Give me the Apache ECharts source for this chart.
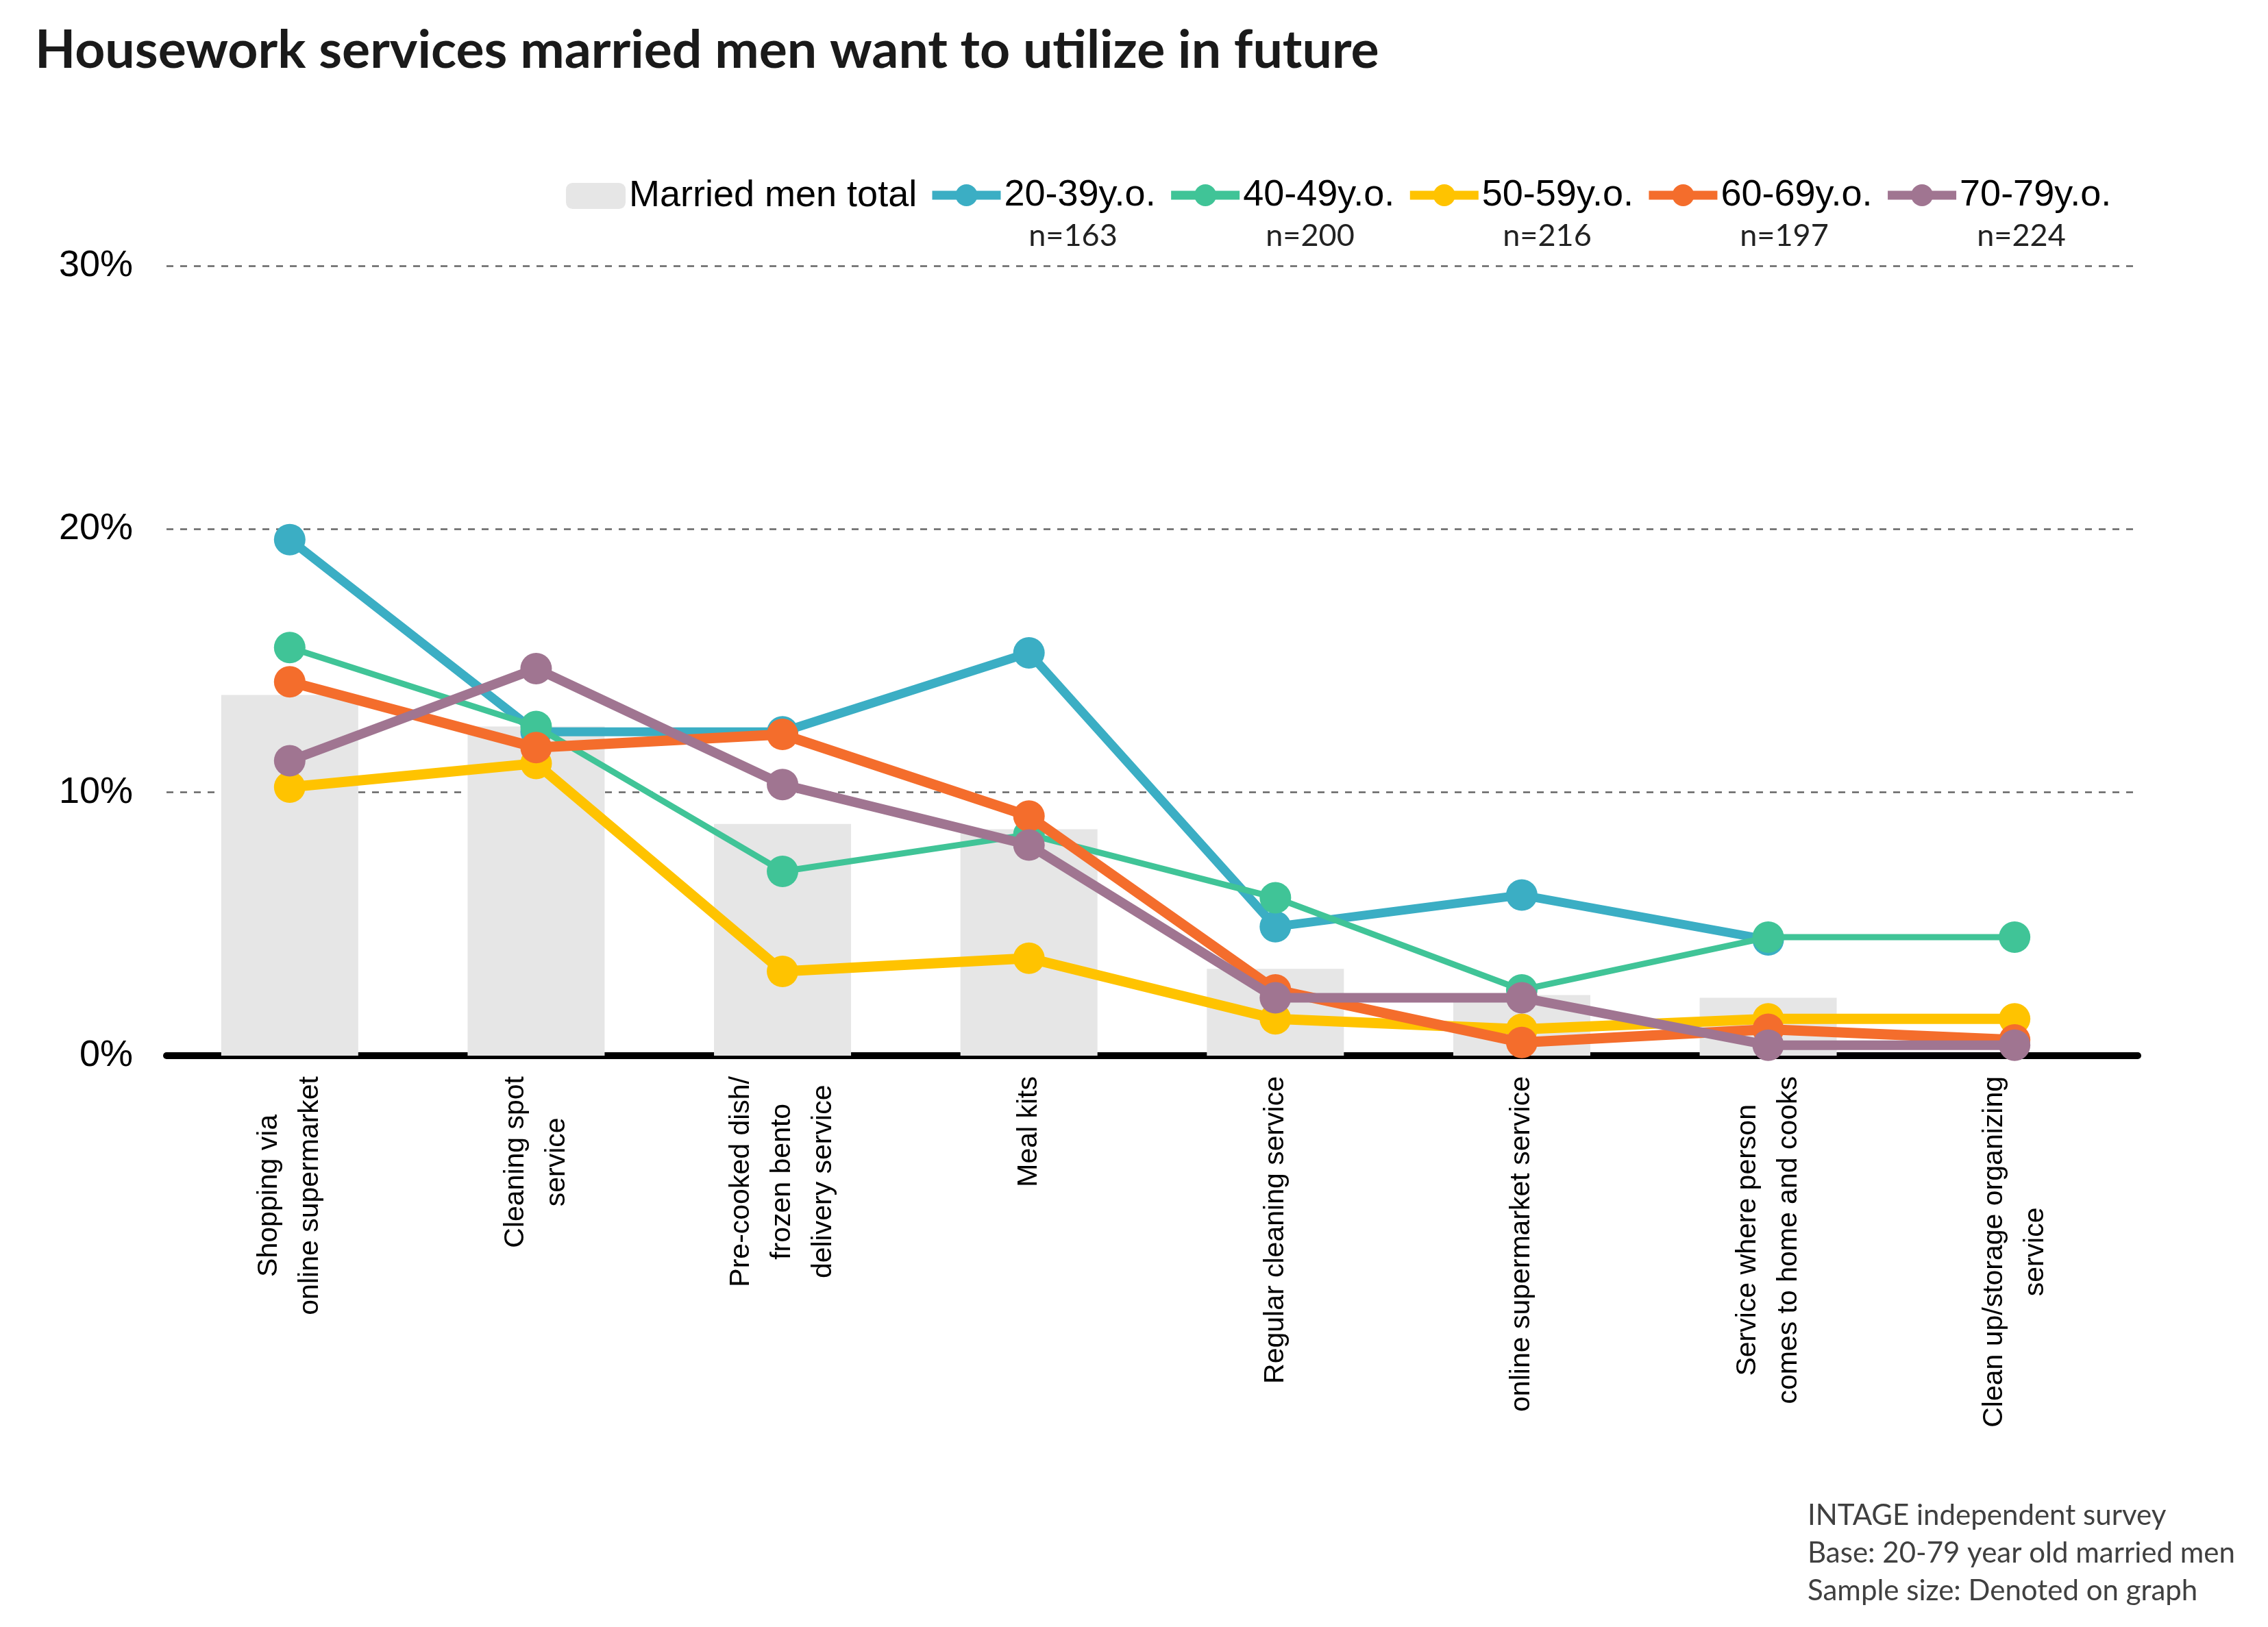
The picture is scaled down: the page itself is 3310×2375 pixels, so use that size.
<!DOCTYPE html>
<html>
<head>
<meta charset="utf-8">
<script src="https://cdn.jsdelivr.net/npm/echarts@6/dist/echarts.min.js"></script>
<style>
html,body{margin:0;padding:0;background:#fff;}
#chart{width:3310px;height:2375px;}
</style>
</head>
<body>
<div id="chart"></div>
<script>
const titleText = 'Housework services married men want to utilize in future';
const categories = [
  'Shopping via\nonline supermarket',
  'Cleaning spot\nservice',
  'Pre-cooked dish/\nfrozen bento\ndelivery service',
  'Meal kits',
  'Regular cleaning service',
  'online supermarket service',
  'Service where person\ncomes to home and cooks',
  'Clean up/storage organizing\nservice'
];
const totalName = 'Married men total';
const totalValues = [13.7, 12.5, 8.8, 8.6, 3.3, 2.3, 2.2, 0];
const seriesNames = ['20-39y.o.', '40-49y.o.', '50-59y.o.', '60-69y.o.', '70-79y.o.'];
const sampleSizes = ['n=163', 'n=200', 'n=216', 'n=197', 'n=224'];
const v2039 = [19.6, 12.3, 12.3, 15.3, 4.9, 6.1, 4.4, null];
const v4049 = [15.5, 12.5, 7.0, 8.4, 6.0, 2.5, 4.5, 4.5];
const v5059 = [10.2, 11.1, 3.2, 3.7, 1.4, 1.0, 1.4, 1.4];
const v6069 = [14.2, 11.7, 12.2, 9.1, 2.5, 0.5, 1.0, 0.6];
const v7079 = [11.2, 14.7, 10.3, 8.0, 2.2, 2.2, 0.4, 0.4];
const yTicks = {min: 0, max: 30, interval: 10};
const footnotes = ['INTAGE independent survey', 'Base: 20-79 year old married men', 'Sample size: Denoted on graph'];

const lineData = [v2039, v4049, v5059, v6069, v7079];
const colors = ['#3BAEC4', '#40C497', '#FFC300', '#F46D2C', '#A07591'];
const widths = [13, 9, 15, 15, 14];

const chart = echarts.init(document.getElementById('chart'), null, {renderer: 'canvas'});
const sans = "'Liberation Sans', Arial, sans-serif";
const humanist = "Lato, 'Open Sans', sans-serif";

const series = [{
  name: totalName,
  type: 'bar',
  data: totalValues,
  barWidth: 200,
  itemStyle: {color: '#E6E6E6'},
  z: 1
}];
seriesNames.forEach((n, i) => {
  series.push({
    name: n,
    type: 'line',
    data: lineData[i],
    symbol: 'circle',
    symbolSize: 46,
    showSymbol: true,
    connectNulls: false,
    lineStyle: {color: colors[i], width: widths[i]},
    itemStyle: {color: colors[i]},
    z: 3 + i
  });
});

const nCenters = [1566, 1912, 2258, 2604, 2950];
const graphics = sampleSizes.map((t, i) => ({
  type: 'text',
  x: nCenters[i], y: 344,
  style: {text: t, font: '45px ' + humanist, fill: '#222', textAlign: 'center', textVerticalAlign: 'middle'}
}));
footnotes.forEach((t, i) => {
  graphics.push({
    type: 'text',
    x: 2638, y: 2212 + i * 55,
    style: {text: t, font: '42px ' + humanist, fill: '#404040', textAlign: 'left', textVerticalAlign: 'middle'}
  });
});

chart.setOption({
  backgroundColor: '#fff',
  animation: false,
  title: {
    text: titleText,
    left: 46, top: 31,
    textStyle: {fontFamily: humanist, fontWeight: 'bold', fontSize: 77, color: '#1a1a1a'}
  },
  legend: [{
    left: 821, top: 254,
    itemWidth: 87, itemHeight: 38, itemGap: 20,
    textStyle: {fontFamily: sans, fontSize: 54, color: '#000'},
    data: [totalName]
  }, {
    left: 1349, top: 253,
    itemWidth: 100, itemHeight: 40, itemGap: 16,
    textStyle: {fontFamily: sans, fontSize: 54, color: '#000'},
    data: seriesNames.map((n, i) => ({name: n, lineStyle: {width: 13, color: colors[i]}}))
  }],
  grid: {left: 243, right: 190, top: 388, bottom: 834, containLabel: false},
  xAxis: {
    type: 'category',
    data: categories,
    axisLine: {show: true, lineStyle: {color: '#000', width: 10, cap: 'round'}},
    axisTick: {show: false},
    axisLabel: {
      rotate: 90, margin: 30, interval: 0,
      formatter: v => v.split('\n').map(l => '{c|' + l + '}').join('\n'),
      rich: {c: {fontFamily: sans, fontSize: 41, lineHeight: 60, color: '#000', align: 'center'}}
    }
  },
  yAxis: {
    type: 'value',
    min: yTicks.min, max: yTicks.max, interval: yTicks.interval,
    axisLine: {show: false},
    axisTick: {show: false},
    axisLabel: {formatter: '{value}%', fontFamily: sans, fontSize: 54, color: '#000', margin: 49},
    splitLine: {show: true, lineStyle: {color: '#666', width: 2.5, type: [10, 10]}}
  },
  series: series,
  graphic: graphics
});
</script>
</body>
</html>
